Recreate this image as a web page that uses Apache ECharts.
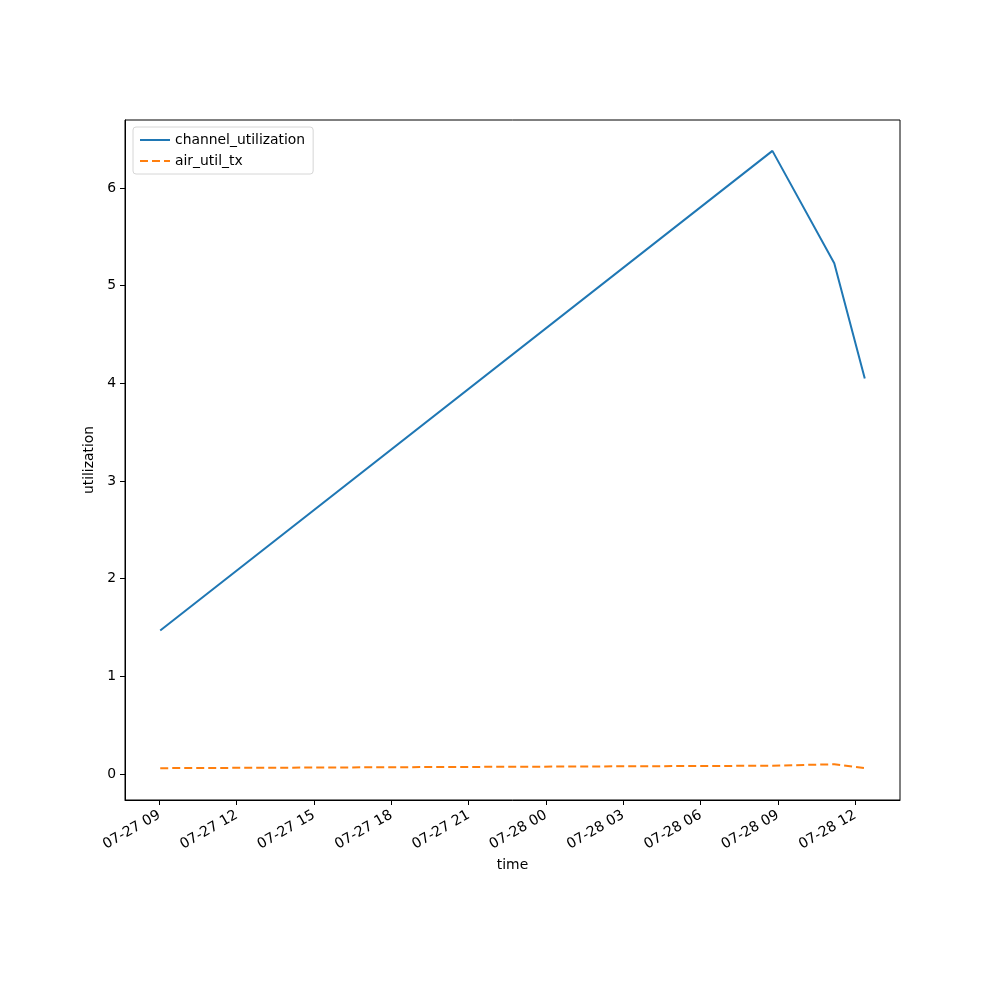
<!DOCTYPE html>
<html>
<head>
<meta charset="utf-8">
<script src="https://cdn.jsdelivr.net/npm/echarts@6/dist/echarts.min.js"></script>
<style>
  html, body { margin: 0; padding: 0; background: #fff; }
  #chart { width: 1000px; height: 1000px; }
</style>
</head>
<body>
<div id="chart"></div>
<script>
// timestamps (UTC)
const times = [
  Date.UTC(2024, 6, 27, 9, 2),
  Date.UTC(2024, 6, 28, 8, 47),
  Date.UTC(2024, 6, 28, 11, 11),
  Date.UTC(2024, 6, 28, 12, 22),
];
const channelUtilization = [1.47, 6.38, 5.23, 4.05];
const airUtilTx = [0.06, 0.085, 0.10, 0.06];

// axis tick values
const xTicks = [];
for (let h = 9; h <= 36; h += 3) xTicks.push(Date.UTC(2024, 6, 27, h, 0));
const yTicks = [0, 1, 2, 3, 4, 5, 6];

const xMin = Date.UTC(2024, 6, 27, 7, 40);
const xMax = Date.UTC(2024, 6, 28, 13, 44);

const FONT = "DejaVu Sans";
const pad2 = (n) => String(n).padStart(2, "0");
const fmtTime = (v) => {
  const d = new Date(v);
  return `${pad2(d.getUTCMonth() + 1)}-${pad2(d.getUTCDate())} ${pad2(d.getUTCHours())}`;
};

const chart = echarts.init(document.getElementById("chart"), null, { renderer: "canvas" });

const axisCommon = {
  axisLine: { show: true, onZero: false, lineStyle: { color: "#000", width: 1 } },
  axisTick: { show: true, length: 5, inside: false, lineStyle: { color: "#000", width: 1 } },
  splitLine: { show: false },
};

chart.setOption({
  animation: false,
  backgroundColor: "#fff",
  textStyle: { fontFamily: FONT },
  grid: {
    left: 125, right: 100, top: 120, bottom: 200,
    show: true, borderColor: "#000", borderWidth: 1,
  },
  legend: {
    orient: "vertical",
    left: 133, top: 127,
    padding: [6, 8, 6, 6],
    itemGap: 7,
    itemWidth: 30,
    itemHeight: 12,
    borderColor: "#d6d6d6",
    borderWidth: 1,
    borderRadius: 3,
    backgroundColor: "rgba(255,255,255,0.8)",
    itemStyle: { opacity: 0 },
    textStyle: { fontFamily: FONT, fontSize: 13.9, color: "#000" },
    data: ["channel_utilization", "air_util_tx"],
  },
  xAxis: {
    type: "value",
    min: xMin,
    max: xMax,
    name: "time",
    nameLocation: "middle",
    nameGap: 58,
    nameTextStyle: { fontFamily: FONT, fontSize: 13.9, color: "#000" },
    ...axisCommon,
    axisTick: { ...axisCommon.axisTick, customValues: xTicks },
    axisLabel: {
      customValues: xTicks,
      rotate: 30,
      margin: 14,
      fontFamily: FONT,
      fontSize: 14.2,
      color: "#000",
      formatter: fmtTime,
    },
  },
  yAxis: {
    type: "value",
    min: -0.266,
    max: 6.696,
    name: "utilization",
    nameLocation: "middle",
    nameGap: 20,
    nameTextStyle: { fontFamily: FONT, fontSize: 13.9, color: "#000" },
    ...axisCommon,
    axisTick: { ...axisCommon.axisTick, customValues: yTicks },
    axisLabel: {
      customValues: yTicks,
      margin: 9,
      fontFamily: FONT,
      fontSize: 13.9,
      color: "#000",
    },
  },
  series: [
    {
      name: "channel_utilization",
      type: "line",
      symbol: "none",
      itemStyle: { color: "#1f77b4" },
      lineStyle: { color: "#1f77b4", width: 2 },
      data: times.map((t, i) => [t, channelUtilization[i]]),
    },
    {
      name: "air_util_tx",
      type: "line",
      symbol: "none",
      itemStyle: { color: "#ff7f0e" },
      lineStyle: { color: "#ff7f0e", width: 2, type: [8, 4] },
      data: times.map((t, i) => [t, airUtilTx[i]]),
    },
  ],
});
</script>
</body>
</html>
